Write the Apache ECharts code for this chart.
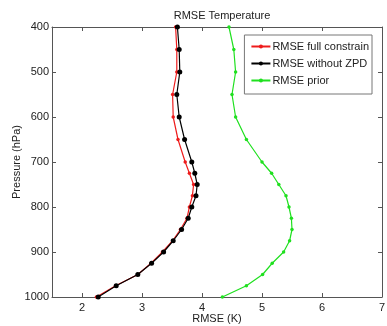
<!DOCTYPE html>
<html>
<head>
<meta charset="utf-8">
<script src="https://cdn.jsdelivr.net/npm/echarts@6/dist/echarts.min.js"></script>
<style>
  html, body { margin: 0; padding: 0; background: #fff; }
  #chart { width: 387px; height: 326px; }
</style>
</head>
<body>
<div id="chart"></div>
<script>
// Pressure levels (hPa) and temperature RMSE (K) profiles
const pressure = [400, 450, 500, 550, 600, 650, 700, 725, 750, 775, 800, 825, 850, 875, 900, 925, 950, 975, 1000];
const rmseFull = [3.56, 3.58, 3.58, 3.51, 3.52, 3.60, 3.72, 3.79, 3.86, 3.84, 3.79, 3.75, 3.64, 3.51, 3.34, 3.15, 2.93, 2.56, 2.24];
const rmseNoZpd = [3.59, 3.62, 3.63, 3.58, 3.62, 3.71, 3.83, 3.88, 3.92, 3.90, 3.83, 3.77, 3.66, 3.52, 3.36, 3.16, 2.93, 2.57, 2.27];
const rmsePrior = [4.45, 4.53, 4.56, 4.50, 4.56, 4.74, 5.00, 5.16, 5.28, 5.40, 5.45, 5.49, 5.50, 5.46, 5.36, 5.17, 5.01, 4.74, 4.34];

const seriesNames = ['RMSE full constrain', 'RMSE without ZPD', 'RMSE prior'];
const xTicks = [2, 3, 4, 5, 6, 7];
const yTicks = [400, 500, 600, 700, 800, 900, 1000];

const pairs = (vals) => vals.map((v, i) => [v, pressure[i]]);

const font = 'Liberation Sans, Arial, Helvetica, sans-serif';
const axisColor = '#555';

const tickStyle = { show: true, inside: true, length: 4, lineStyle: { color: axisColor, width: 1 } };

const chart = echarts.init(document.getElementById('chart'), null, { renderer: 'canvas' });
chart.setOption({
  animation: false,
  backgroundColor: '#fff',
  textStyle: { fontFamily: font },
  title: {
    text: 'RMSE Temperature',
    left: 217, top: 5, textAlign: 'center',
    textStyle: { fontSize: 11, fontWeight: 'normal', color: '#222', fontFamily: font }
  },
  grid: { left: 52, right: 5, top: 27, bottom: 29, containLabel: false, outerBoundsMode: 'none' },
  legend: {
    data: seriesNames,
    orient: 'vertical',
    right: 15, top: 35,
    backgroundColor: '#fff',
    borderColor: '#777', borderWidth: 1,
    padding: [6, 3, 8, 6],
    itemGap: 6,
    itemWidth: 19, itemHeight: 5,
    textStyle: { fontSize: 11, color: '#222', fontFamily: font, padding: [0, 0, 0, -3] }
  },
  xAxis: [{
    type: 'value', min: 1.5, max: 7,
    name: 'RMSE (K)', nameLocation: 'middle', nameGap: 16, nameMoveOverlap: false,
    nameTextStyle: { fontSize: 11, color: '#222', fontFamily: font },
    axisLine: { show: true, lineStyle: { color: axisColor } },
    axisTick: Object.assign({ customValues: xTicks }, tickStyle),
    axisLabel: { customValues: xTicks, fontSize: 11, color: '#222', margin: 5, fontFamily: font },
    splitLine: { show: false }
  }, {
    type: 'value', min: 1.5, max: 7, position: 'top',
    axisLine: { show: true, lineStyle: { color: axisColor } },
    axisTick: Object.assign({ customValues: xTicks }, tickStyle),
    axisLabel: { show: false },
    splitLine: { show: false }
  }],
  yAxis: [{
    type: 'value', min: 400, max: 1000, inverse: true,
    name: 'Pressure (hPa)', nameLocation: 'middle', nameGap: 30, nameRotate: 90, nameMoveOverlap: false,
    nameTextStyle: { fontSize: 11, color: '#222', fontFamily: font },
    axisLine: { show: true, lineStyle: { color: axisColor } },
    axisTick: Object.assign({ customValues: yTicks }, tickStyle),
    axisLabel: { customValues: yTicks, formatter: (v) => String(v), fontSize: 11, color: '#222', margin: 3, fontFamily: font },
    splitLine: { show: false }
  }, {
    type: 'value', min: 400, max: 1000, inverse: true, position: 'right',
    axisLine: { show: true, lineStyle: { color: axisColor } },
    axisTick: Object.assign({ customValues: yTicks }, tickStyle),
    axisLabel: { show: false },
    splitLine: { show: false }
  }],
  series: [{
    name: seriesNames[2], type: 'line', data: pairs(rmsePrior),
    color: '#1fe01f', symbol: 'circle', symbolSize: 3.5, showSymbol: true,
    lineStyle: { width: 1.2 }, z: 2
  }, {
    name: seriesNames[0], type: 'line', data: pairs(rmseFull),
    color: '#ee1c1c', symbol: 'circle', symbolSize: 3.5,
    lineStyle: { width: 1.2 }, z: 3
  }, {
    name: seriesNames[1], type: 'line', data: pairs(rmseNoZpd),
    color: '#000', symbol: 'circle', symbolSize: 5,
    lineStyle: { width: 1.2 }, z: 4
  }]
});
</script>
</body>
</html>
